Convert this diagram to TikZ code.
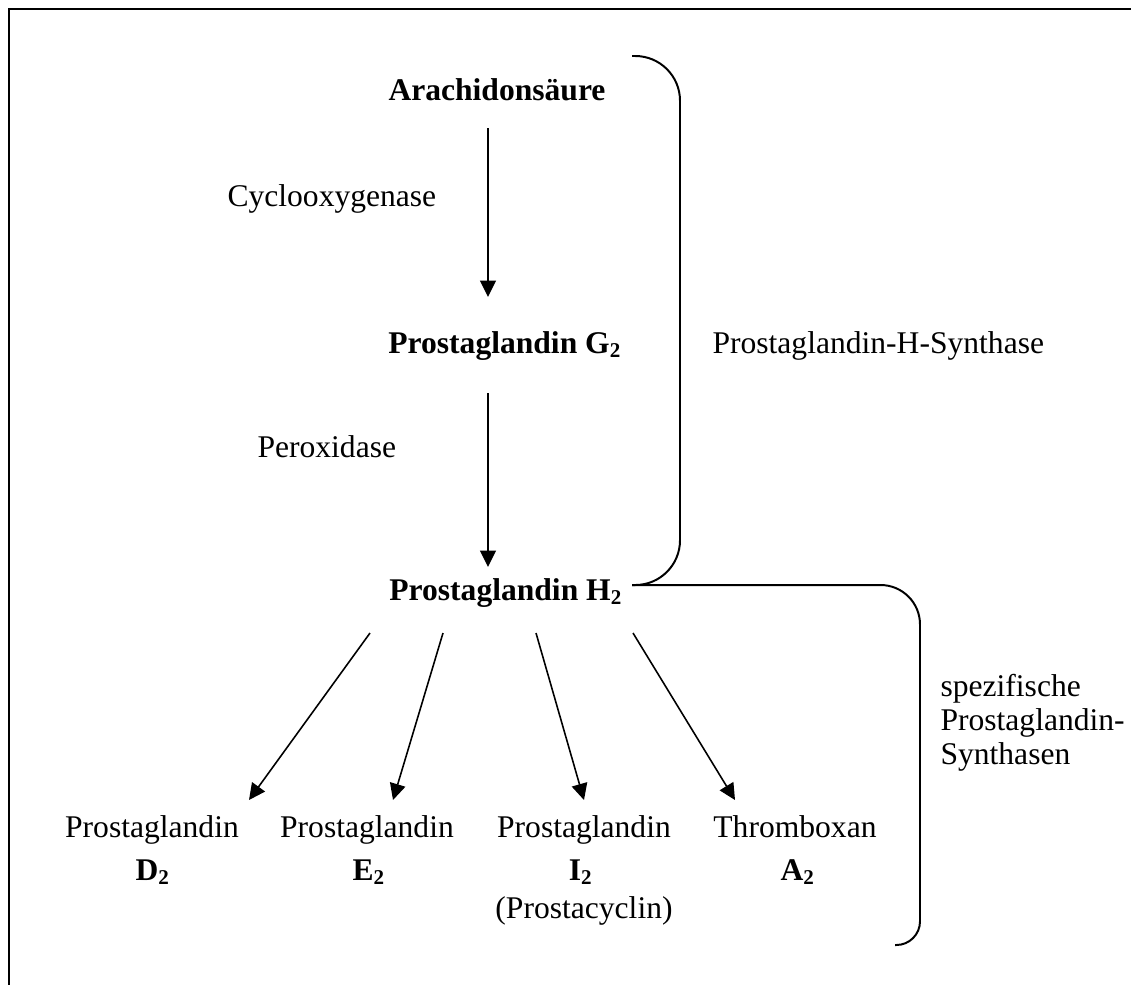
\documentclass[12pt,tikz,border=0pt]{standalone}
\usepackage{fontspec}
\setmainfont{Liberation Serif}
\usetikzlibrary{arrows.meta}
\tikzset{
  pfeil/.style={-{Triangle[length=6.2pt,width=6pt]}, line width=0.6pt},
  klammer/.style={line width=0.75pt},
  fett/.style={font=\bfseries, inner sep=0pt, anchor=base},
  norm/.style={inner sep=0pt, anchor=base}
}
\begin{document}
\begin{tikzpicture}[x=0.38pt,y=-0.38pt]
      \useasboundingbox (0,0) rectangle (1131,985);
      \draw[line width=0.76pt] (1131,9) -- (9,9) -- (9,985);
      % Hauptweg
      \node[fett] (ara) at (497,100) {Arachidonsäure};
      \node[fett] (pgg) at (505,353) {Prostaglandin G\textsubscript{2}};
      \node[fett] (pgh) at (506,600) {Prostaglandin H\textsubscript{2}};
      \node[norm, anchor=base west] (cox) at (227,206) {Cyclooxygenase};
      \node[norm, anchor=base west] (pox) at (257,457) {Peroxidase};
      \node[norm, anchor=base west] (phs) at (712,353) {Prostaglandin-H-Synthase};
      \node[norm, anchor=base west] (spz) at (940,696) {spezifische};
      \node[norm, anchor=base west] (spp) at (940,730) {Prostaglandin-};
      \node[norm, anchor=base west] (sps) at (940,764) {Synthasen};
      % Produkte
      \node[norm] (pgd) at (152,837) {Prostaglandin};
      \node[fett] (pgdx) at (153,880) {D\textsubscript{2}};
      \node[norm] (pge) at (367,837) {Prostaglandin};
      \node[fett] (pgex) at (369,880) {E\textsubscript{2}};
      \node[norm] (pgi) at (584,837) {Prostaglandin};
      \node[fett] (pgix) at (581,880) {I\textsubscript{2}};
      \node[norm] (pgic) at (584,918) {(Prostacyclin)};
      \node[norm] (txa) at (795,837) {Thromboxan};
      \node[fett] (txax) at (798,880) {A\textsubscript{2}};
      % Pfeile
      \coordinate (A1) at (488,128); \coordinate (A2) at (488,297);
      \coordinate (B1) at (488,393); \coordinate (B2) at (488,567);
      \coordinate (D1) at (370,633); \coordinate (D2) at (249,800);
      \coordinate (E1) at (443,633); \coordinate (E2) at (393,800);
      \coordinate (I1) at (536,633); \coordinate (I2) at (584,800);
      \coordinate (T1) at (633,633); \coordinate (T2) at (735,800);
      \draw[pfeil] (A1)--(A2);
      \draw[pfeil] (B1)--(B2);
      \draw[pfeil] (D1)--(D2);
      \draw[pfeil] (E1)--(E2);
      \draw[pfeil] (I1)--(I2);
      \draw[pfeil] (T1)--(T2);
      % Klammern
      \draw[klammer, rounded corners=17pt] (632,56) -| (680,585) -- (632,585);
      \draw[klammer, rounded corners=15pt] (632,585) -- (920,585) -- (920,800)
        [rounded corners=9pt] -- (920,945) -- (895,945);
    \end{tikzpicture}
\end{document}
